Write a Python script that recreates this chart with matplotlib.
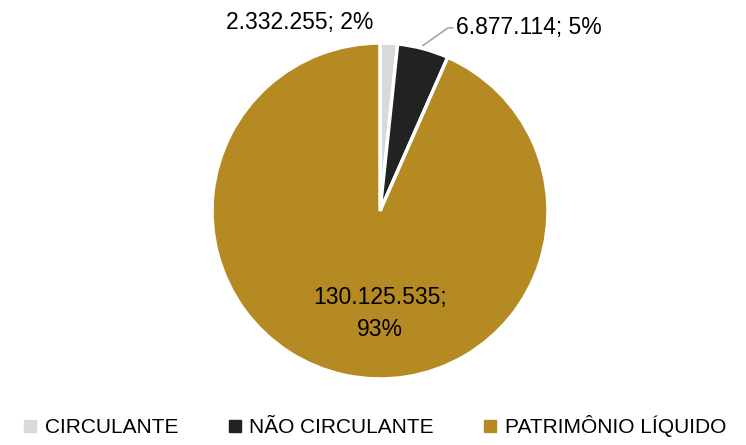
import matplotlib
matplotlib.use("Agg")
import numpy as np
import matplotlib.pyplot as plt
from matplotlib.lines import Line2D

labels = ["CIRCULANTE", "NÃO CIRCULANTE", "PATRIMÔNIO LÍQUIDO"]
values = [2332255, 6877114, 130125535]
value_text = ["2.332.255", "6.877.114", "130.125.535"]
colors = ["#d9d9d9", "#222222", "#b58a23"]

plt.rcParams['font.family'] = ['Liberation Sans', 'DejaVu Sans']

fig = plt.figure(figsize=(7.46, 4.45), dpi=100)
W, H = 746, 445
cx, cy, r = 380, 211, 168
ax = fig.add_axes([(cx - r) / W, (H - cy - r) / H, 2 * r / W, 2 * r / H])

wedges, _ = ax.pie(values, colors=colors, startangle=90, counterclock=False,
                   radius=1, wedgeprops=dict(edgecolor="white", linewidth=2.5))
ax.set_xlim(-1, 1)
ax.set_ylim(-1, 1)
ax.set_aspect("equal")
ax.axis("off")

total = sum(values)
pct = [round(v / total * 100) for v in values]
fs = 16.5

# label 1: above the small wedge
ax.text(-0.476, 1.125, f"{value_text[0]}; {pct[0]}%", ha="center", va="center",
        fontsize=fs, clip_on=False)
# label 2: with leader line
ax.annotate(f"{value_text[1]}; {pct[1]}%", xy=(0.255, 0.985), xytext=(0.45, 1.09),
            ha="left", va="center", fontsize=fs, annotation_clip=False,
            arrowprops=dict(arrowstyle="-", color="#a6a6a6", lw=1.2,
                            connectionstyle="angle,angleA=0,angleB=35,rad=0",
                            shrinkA=0, shrinkB=0))
# label 3: inside
ax.text(0, -0.61, f"{value_text[2]};\n{pct[2]}%", ha="center", va="center",
        fontsize=fs, linespacing=1.55)

handles = [Line2D([0], [0], marker="s", linestyle="none", markersize=9,
                  markerfacecolor=c, markeredgecolor=c) for c in colors]
fig.legend(handles, labels, loc="lower center", bbox_to_anchor=(0.5, -0.025),
           ncol=3, frameon=False, fontsize=15, handletextpad=0.2,
           columnspacing=2.2, handlelength=1.0)

fig.savefig("out.png", dpi=100)
